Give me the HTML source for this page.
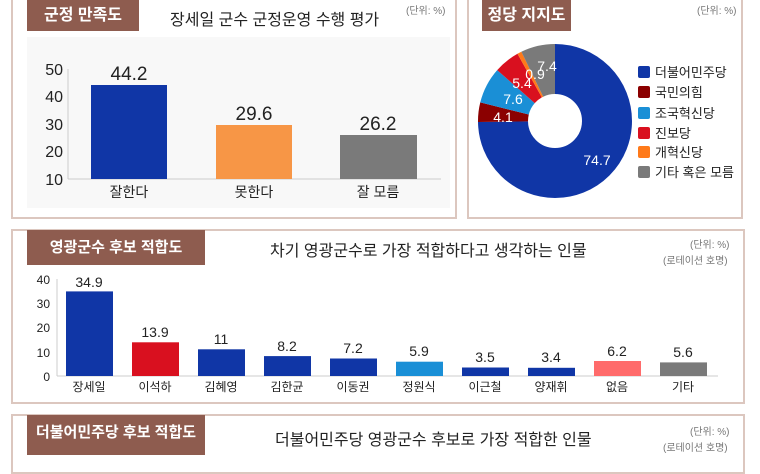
<!DOCTYPE html>
<html><head><meta charset="utf-8"><style>
body{margin:0;width:760px;height:450px;overflow:hidden;background:#fff;font-family:"Liberation Sans","Noto Sans CJK KR",sans-serif;position:relative}
.p{position:absolute;border:2px solid #dcc7bf;box-sizing:border-box;background:#fff}
.tag{position:absolute;background:#8e5c4f;color:#fff;font-weight:bold;text-align:center;box-sizing:border-box}
.t{position:absolute;color:#222;white-space:nowrap}
.u{position:absolute;color:#777;font-size:10px;white-space:nowrap}
</style></head><body>
<div class="p" style="left:11px;top:-4px;width:446px;height:223px"></div>
<div style="position:absolute;left:27px;top:37px;width:423px;height:171px;background:#f8f8f8"></div>
<div class="tag" style="left:27px;top:0;width:112px;height:31px;font-size:16px;line-height:31px">군정 만족도</div>
<div class="t" style="left:170px;top:6px;font-size:16px">장세일 군수 군정운영 수행 평가</div>
<div class="u" style="left:406px;top:2px">(단위: %)</div>

<div class="p" style="left:467px;top:-4px;width:276px;height:223px"></div>
<div class="tag" style="left:482px;top:0;width:89px;height:31px;font-size:16px;line-height:31px">정당 지지도</div>
<div class="u" style="left:697px;top:2px">(단위: %)</div>

<div class="p" style="left:11px;top:229px;width:734px;height:175px"></div>
<div class="tag" style="left:27px;top:230px;width:178px;height:35px;font-size:15px;line-height:35px">영광군수 후보 적합도</div>
<div class="t" style="left:270px;top:237px;font-size:16px">차기 영광군수로 가장 적합하다고 생각하는 인물</div>
<div class="u" style="left:690px;top:236px">(단위: %)</div>
<div class="u" style="left:663px;top:252px">(로테이션 호명)</div>

<div class="p" style="left:11px;top:414px;width:734px;height:60px"></div>
<div class="tag" style="left:27px;top:415px;width:178px;height:40px;font-size:15px;line-height:36px">더불어민주당 후보 적합도</div>
<div class="t" style="left:275px;top:426px;font-size:16px">더불어민주당 영광군수 후보로 가장 적합한 인물</div>
<div class="u" style="left:690px;top:423px">(단위: %)</div>
<div class="u" style="left:663px;top:439px">(로테이션 호명)</div>

<svg width="760" height="450" style="position:absolute;left:0;top:0" font-family="Liberation Sans, Noto Sans CJK KR, sans-serif">
<!-- chart1 -->
<g font-size="16" fill="#222" text-anchor="end">
<text x="63" y="75">50</text><text x="63" y="102">40</text><text x="63" y="130">30</text><text x="63" y="157">20</text><text x="63" y="185">10</text>
</g>
<line x1="68" y1="69" x2="68" y2="179" stroke="#ccc"/>
<line x1="68" y1="179" x2="441" y2="179" stroke="#ccc"/>
<rect x="91" y="85" width="76" height="94" fill="#1036a6"/>
<rect x="216" y="125" width="76" height="54" fill="#f79646"/>
<rect x="340" y="135" width="77" height="44" fill="#7a7a7a"/>
<g font-size="19" fill="#222" text-anchor="middle">
<text x="129" y="80">44.2</text><text x="254" y="120">29.6</text><text x="378" y="130">26.2</text>
</g>
<g font-size="14" fill="#222" text-anchor="middle">
<text x="129" y="197">잘한다</text><text x="254" y="197">못한다</text><text x="378" y="197">잘 모름</text>
</g>
<!-- donut -->
<g transform="rotate(-90 555 121)" fill="none" stroke-width="50">
<circle cx="555" cy="121" r="52" stroke="#1036a6" stroke-dasharray="244.07 326.73" stroke-dashoffset="0"/>
<circle cx="555" cy="121" r="52" stroke="#8b0000" stroke-dasharray="13.4 326.73" stroke-dashoffset="-244.07"/>
<circle cx="555" cy="121" r="52" stroke="#1a8fd6" stroke-dasharray="24.83 326.73" stroke-dashoffset="-257.47"/>
<circle cx="555" cy="121" r="52" stroke="#d9101f" stroke-dasharray="17.64 326.73" stroke-dashoffset="-282.3"/>
<circle cx="555" cy="121" r="52" stroke="#ff7a1a" stroke-dasharray="2.94 326.73" stroke-dashoffset="-299.94"/>
<circle cx="555" cy="121" r="52" stroke="#7a7a7a" stroke-dasharray="24.2 326.73" stroke-dashoffset="-302.88"/>
</g>
<g font-size="14" fill="#fff" text-anchor="middle">
<text x="597" y="165">74.7</text><text x="503" y="122">4.1</text><text x="513" y="104">7.6</text><text x="522" y="88">5.4</text><text x="535" y="79">0.9</text><text x="547" y="71">7.4</text>
</g>
<g font-size="13" fill="#222">
<rect x="638" y="66" width="12" height="12" rx="2" fill="#1036a6"/><text x="655" y="77">더불어민주당</text>
<rect x="638" y="86" width="12" height="12" rx="2" fill="#8b0000"/><text x="655" y="97">국민의힘</text>
<rect x="638" y="107" width="12" height="12" rx="2" fill="#1a8fd6"/><text x="655" y="118">조국혁신당</text>
<rect x="638" y="127" width="12" height="12" rx="2" fill="#d9101f"/><text x="655" y="138">진보당</text>
<rect x="638" y="146" width="12" height="12" rx="2" fill="#ff7a1a"/><text x="655" y="157">개혁신당</text>
<rect x="638" y="166" width="12" height="12" rx="2" fill="#7a7a7a"/><text x="655" y="177">기타 혹은 모름</text>
</g>
<!-- chart3 -->
<g font-size="12" fill="#222" text-anchor="end">
<text x="50" y="284">40</text><text x="50" y="308">30</text><text x="50" y="332">20</text><text x="50" y="357">10</text><text x="50" y="381">0</text>
</g>
<line x1="57" y1="279" x2="57" y2="376" stroke="#ccc"/>
<line x1="57" y1="376" x2="718" y2="376" stroke="#ccc"/>
<g>
<rect x="66" y="291.4" width="47" height="84.6" fill="#1036a6"/>
<rect x="132" y="342.3" width="47" height="33.7" fill="#d9101f"/>
<rect x="198" y="349.3" width="47" height="26.7" fill="#1036a6"/>
<rect x="264" y="356.1" width="47" height="19.9" fill="#1036a6"/>
<rect x="330" y="358.5" width="47" height="17.5" fill="#1036a6"/>
<rect x="396" y="361.7" width="47" height="14.3" fill="#1a8fd6"/>
<rect x="462" y="367.5" width="47" height="8.5" fill="#1036a6"/>
<rect x="528" y="367.8" width="47" height="8.2" fill="#1036a6"/>
<rect x="594" y="361" width="47" height="15" fill="#ff6b6b"/>
<rect x="660" y="362.4" width="47" height="13.6" fill="#7a7a7a"/>
</g>
<g font-size="14" fill="#222" text-anchor="middle">
<text x="89" y="287">34.9</text><text x="155" y="337">13.9</text><text x="221" y="344">11</text><text x="287" y="351">8.2</text><text x="353" y="353">7.2</text><text x="419" y="356">5.9</text><text x="485" y="362">3.5</text><text x="551" y="362">3.4</text><text x="617" y="356">6.2</text><text x="683" y="357">5.6</text>
</g>
<g font-size="12" fill="#222" text-anchor="middle">
<text x="89" y="391">장세일</text><text x="155" y="391">이석하</text><text x="221" y="391">김혜영</text><text x="287" y="391">김한균</text><text x="353" y="391">이동권</text><text x="419" y="391">정원식</text><text x="485" y="391">이근철</text><text x="551" y="391">양재휘</text><text x="617" y="391">없음</text><text x="683" y="391">기타</text>
</g>
</svg>
</body></html>
